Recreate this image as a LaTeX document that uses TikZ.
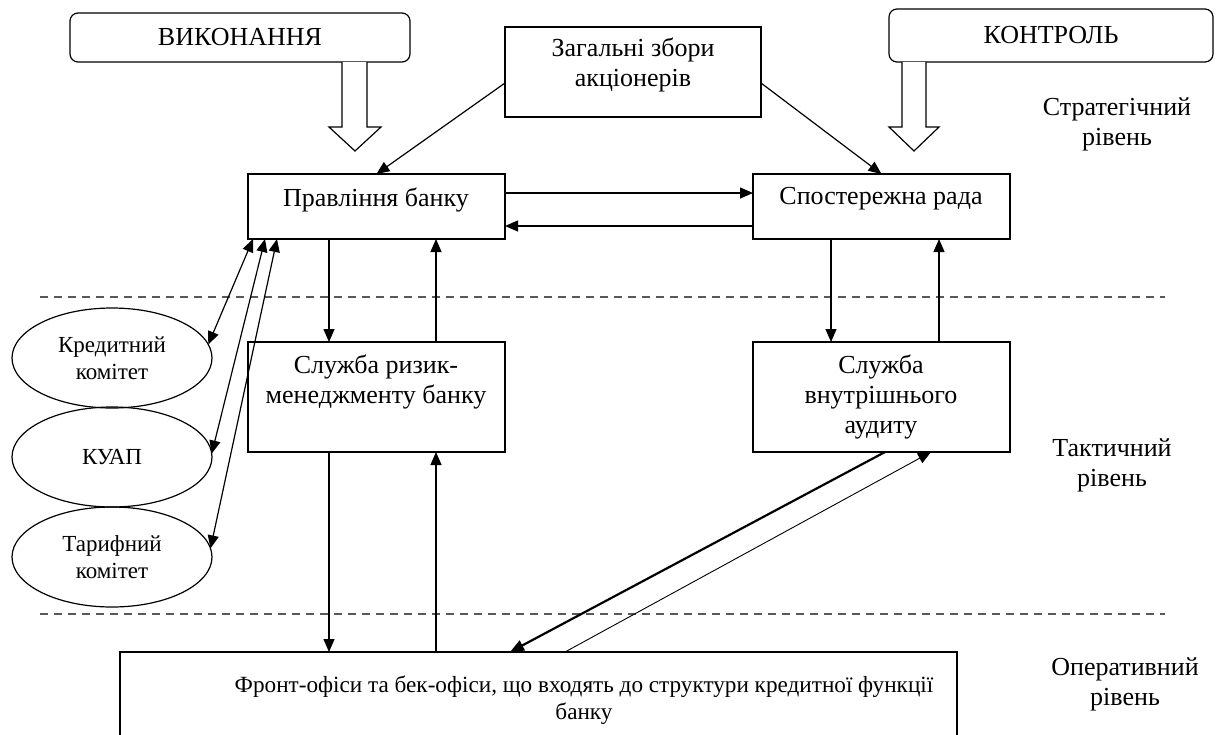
\documentclass[tikz,border=0pt]{standalone}
\usepackage{fontspec}
\setmainfont{Liberation Serif}
\usetikzlibrary{arrows.meta,shapes.geometric}
\begin{document}
\begin{tikzpicture}[x=1pt,y=-1pt,
  every node/.style={inner sep=0pt, outer sep=0pt},
  box/.style={draw, line width=1.2pt, rectangle, anchor=north west},
  rbox/.style={box, rounded corners=8pt},
  lbl/.style={font=\fontsize{26}{30}\selectfont, align=center},
  smalllbl/.style={font=\fontsize{23.2}{27}\selectfont, align=center},
  oval/.style={draw, line width=1.2pt, ellipse, minimum width=200pt, minimum height=100pt,
               font=\fontsize{23}{27}\selectfont, align=center},
  arr/.style={-{Triangle[length=13pt,width=11pt]}, line width=1.2pt},
  darr/.style={{Triangle[length=13pt,width=11pt]}-{Triangle[length=13pt,width=11pt]}, line width=1.2pt},
  levelline/.style={draw=black!65, line width=1.2pt, dash pattern=on 8pt off 6pt},
  hollow/.style={draw, line width=1.2pt, fill=white, line join=miter}
]
\useasboundingbox (0,0) rectangle (1217,734);
\clip (0,0) rectangle (1217,734);

% direction boxes with hollow block arrows
\node[rbox, minimum width=340pt, minimum height=49pt] (vyk) at (70,13) {};
\node[lbl] (vyktxt) at (240,37) {ВИКОНАННЯ};
\node[rbox, minimum width=324pt, minimum height=53pt] (kon) at (889,9) {};
\node[lbl] (kontxt) at (1051,35) {КОНТРОЛЬ};
\draw[hollow] (342,62) -- (342,127) -- (329,127) -- (355,151) -- (381,127) -- (367,127) -- (367,62);
\draw[hollow] (902,62) -- (902,127) -- (889,127) -- (914,151) -- (939,127) -- (926,127) -- (926,62);

% strategic level
\node[box, minimum width=256pt, minimum height=90pt] (zag) at (505,27) {};
\node[lbl] (zagtxt) at (633,65) {Загальні збори\\акціонерів};
\node[box, minimum width=257pt, minimum height=65pt] (prav) at (248,174) {};
\node[lbl] (pravtxt) at (376,200) {Правління банку};
\node[box, minimum width=257pt, minimum height=65pt] (spost) at (753,174) {};
\node[lbl] (sposttxt) at (881,199) {Спостережна рада};

% tactical level
\node[box, minimum width=257pt, minimum height=110pt] (risk) at (248,342) {};
\node[lbl] (risktxt) at (376,382) {Служба ризик-\\менеджменту банку};
\node[box, minimum width=257pt, minimum height=110pt] (aud) at (753,342) {};
\node[lbl] (audtxt) at (881,397) {Служба\\внутрішнього\\аудиту};

\node[oval] (kred) at (112,358) {Кредитний\\комітет};
\node[oval] (kuap) at (112,457) {КУАП};
\node[oval] (tarif) at (112,557) {Тарифний\\комітет};

% operational level
\node[box, minimum width=837pt, minimum height=120pt] (front) at (120,652) {};
\node[smalllbl] (fronttxt) at (584,700) {Фронт-офіси та бек-офіси, що входять до структури кредитної функції\\банку};

% level captions and separators
\node[lbl] (strat) at (1117,124) {Стратегічний\\рівень};
\node[lbl] (takt) at (1112,465) {Тактичний\\рівень};
\node[lbl] (oper) at (1125,684) {Оперативний\\рівень};
\coordinate (sepA1) at (40,297);  \coordinate (sepA2) at (1165,297);
\coordinate (sepB1) at (40,614);  \coordinate (sepB2) at (1165,614);
\draw[levelline] (sepA1) -- (sepA2);
\draw[levelline] (sepB1) -- (sepB2);

% connectors
\draw[arr] ([yshift=-11pt]zag.west) -- (prav.north);
\draw[arr] ([yshift=-11pt]zag.east) -- (spost.north);
\draw[arr] ([yshift=13.5pt]prav.east) -- ([yshift=13.5pt]spost.west);
\draw[arr] ([yshift=-19.5pt]spost.west) -- ([yshift=-19.5pt]prav.east);

\draw[arr] ([xshift=81pt]prav.south west) -- ([xshift=81pt]risk.north west);
\draw[arr] ([xshift=188pt]risk.north west) -- ([xshift=188pt]prav.south west);
\draw[arr] ([xshift=78pt]spost.south west) -- ([xshift=78pt]aud.north west);
\draw[arr] ([xshift=186pt]aud.north west) -- ([xshift=186pt]spost.south west);

\draw[darr] ([xshift=5pt]prav.south west) -- (kred.8);
\draw[darr] ([xshift=17pt]prav.south west) -- (kuap.2);
\draw[darr] ([xshift=29pt]prav.south west) -- (tarif.5);

\draw[arr] ([xshift=81pt]risk.south west) -- ([xshift=209pt]front.north west);
\draw[arr] ([xshift=316pt]front.north west) -- ([xshift=188pt]risk.south west);
\draw[-{Triangle[length=14pt,width=11pt]}, line width=2.2pt] ([xshift=132pt]aud.south west) -- ([xshift=390pt]front.north west);
\draw[-{Triangle[length=13pt,width=11pt]}, line width=0.9pt] ([xshift=445pt]front.north west) -- ([xshift=178pt]aud.south west);
\end{tikzpicture}
\end{document}
